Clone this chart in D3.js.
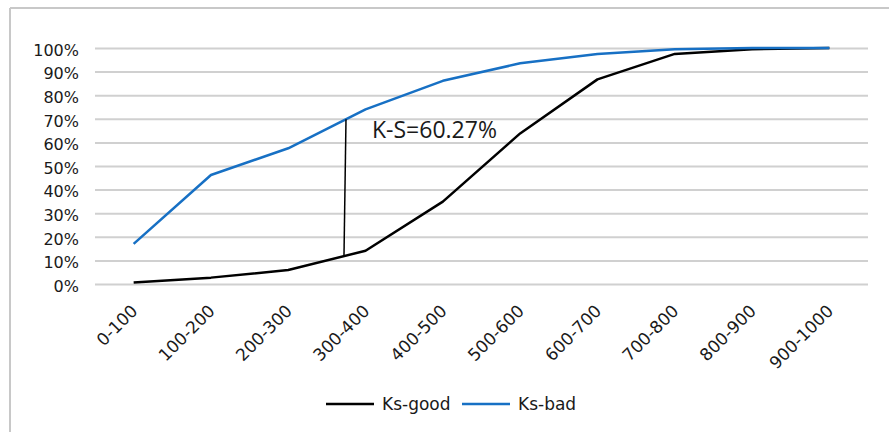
<!DOCTYPE html>
<html>
<head>
<meta charset="utf-8">
<script src="https://cdn.jsdelivr.net/npm/d3@7/dist/d3.min.js"></script>
<style>
  html, body { margin: 0; padding: 0; background: #fff; }
  svg { display: block; }
</style>
</head>
<body>
<svg id="chart" width="889" height="432"></svg>
<script>
// ---- data ----
const categories = ["0-100", "100-200", "200-300", "300-400", "400-500", "500-600", "600-700", "700-800", "800-900", "900-1000"];
const ksGood = [0.006, 0.027, 0.059, 0.141, 0.349, 0.638, 0.867, 0.975, 0.995, 1.0];
const ksBad  = [0.17, 0.462, 0.575, 0.74, 0.861, 0.935, 0.975, 0.995, 1.0, 1.0];
const yTicks = [0, 0.1, 0.2, 0.3, 0.4, 0.5, 0.6, 0.7, 0.8, 0.9, 1.0];
const seriesNames = ["Ks-good", "Ks-bad"];
const ksLabel = "K-S=60.27%";
const ksIndexTop = 2.747;     // category-index position of the K-S gap line (top)
const ksIndexBottom = 2.721;  // (bottom)

// ---- layout ----
const svg = d3.select("#chart");
const plot = { left: 95, right: 868, top: 48, bottom: 284 };
const colors = { good: "#000000", bad: "#1770c4", grid: "#d0d0d0", border: "#c8c8c8", text: "#1a1a1a" };

// chart-area border (top and left visible)
svg.append("line").attr("x1", 10).attr("x2", 889).attr("y1", 8).attr("y2", 8)
  .attr("stroke", colors.border).attr("stroke-width", 2);
svg.append("line").attr("x1", 10).attr("x2", 10).attr("y1", 8).attr("y2", 432)
  .attr("stroke", colors.border).attr("stroke-width", 2);

const xBand = d3.scaleBand().domain(categories).range([plot.left, plot.right]);
const xc = i => xBand(categories[i]) + xBand.bandwidth() / 2;
const xIdx = t => xc(0) + t * xBand.step();
const y = d3.scaleLinear().domain([0, 1]).range([plot.bottom, plot.top]);

// gridlines + y labels via axis
const yAxis = d3.axisLeft(y).tickValues(yTicks).tickFormat(d3.format(".0%"))
  .tickSize(-(plot.right - plot.left)).tickPadding(16);
const gy = svg.append("g").attr("transform", `translate(${plot.left},0)`).call(yAxis);
gy.select(".domain").remove();
gy.selectAll(".tick line").attr("stroke", colors.grid).attr("stroke-width", 2);
gy.selectAll(".tick text")
  .attr("font-family", "DejaVu Sans").attr("font-size", 16).attr("fill", colors.text)
  .attr("dy", "0.45em");

// x axis labels (rotated)
const xAxis = d3.axisBottom(xBand).tickSize(0).tickPadding(0);
const gx = svg.append("g").attr("transform", `translate(0,${plot.bottom})`).call(xAxis);
gx.select(".domain").remove();
gx.selectAll(".tick text")
  .attr("font-family", "DejaVu Sans").attr("font-size", 17).attr("fill", colors.text)
  .attr("text-anchor", "end")
  .attr("dy", null).attr("y", null)
  .attr("transform", "translate(5,28) rotate(-45)");

// lines
const line = d3.line().x((d, i) => xc(i)).y(d => y(d));
svg.append("path").datum(ksGood).attr("d", line)
  .attr("fill", "none").attr("stroke", colors.good).attr("stroke-width", 2.5).attr("stroke-linejoin", "round");
svg.append("path").datum(ksBad).attr("d", line)
  .attr("fill", "none").attr("stroke", colors.bad).attr("stroke-width", 2.5).attr("stroke-linejoin", "round");

// K-S gap line, endpoints interpolated on the two series
function interp(arr, t) {
  const i = Math.floor(t), f = t - i;
  return arr[i] + f * (arr[i + 1] - arr[i]);
}
svg.append("line")
  .attr("x1", xIdx(ksIndexTop)).attr("y1", y(interp(ksBad, ksIndexTop)))
  .attr("x2", xIdx(ksIndexBottom)).attr("y2", y(interp(ksGood, ksIndexBottom)))
  .attr("stroke", "#000").attr("stroke-width", 1.5);

svg.append("text")
  .attr("x", xIdx(ksIndexTop) + 26).attr("y", y(0.62))
  .attr("font-family", "Open Sans").attr("font-size", 23).attr("fill", colors.text)
  .text(ksLabel);

// legend
const legend = [
  { name: seriesNames[0], color: colors.good, x: 326 },
  { name: seriesNames[1], color: colors.bad, x: 462 }
];
const lg = svg.append("g");
legend.forEach(l => {
  lg.append("line").attr("x1", l.x).attr("x2", l.x + 48).attr("y1", 404).attr("y2", 404)
    .attr("stroke", l.color).attr("stroke-width", 2.5);
  lg.append("text").attr("x", l.x + 56).attr("y", 410)
    .attr("font-family", "DejaVu Sans").attr("font-size", 17).attr("fill", colors.text)
    .text(l.name);
});
</script>
</body>
</html>
